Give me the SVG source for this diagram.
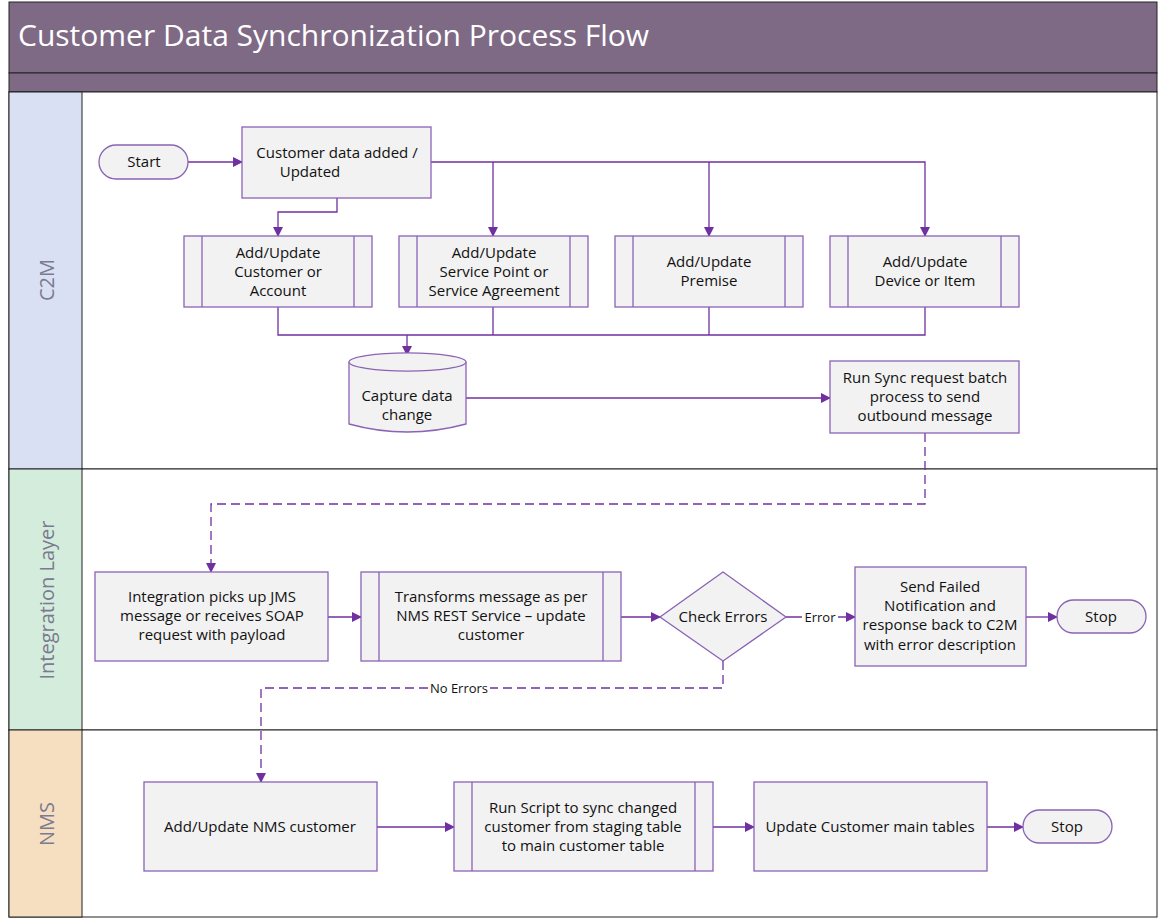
<svg xmlns="http://www.w3.org/2000/svg" width="1160" height="920" viewBox="0 0 1160 920">
<style>
text{font-family:"Open Sans","Liberation Sans",sans-serif;font-size:15px;fill:#111;text-anchor:middle}
.n{fill:#f2f2f2;stroke:#8a63b5;stroke-width:1.3}
.c{fill:none;stroke:#7030a0;stroke-width:1.3}
.d{stroke-dasharray:9,5}
.lane{font-size:20px;fill:#7a7a90}
</style>
<defs><marker id="a" markerWidth="10" markerHeight="10" refX="9" refY="5" orient="auto" markerUnits="userSpaceOnUse"><path d="M0,0 L10,5 L0,10 z" fill="#7030a0"/></marker></defs>
<rect x="0" y="0" width="1160" height="920" fill="#fff"/>
<g id="frame">
<rect x="9" y="2" width="1148" height="71" fill="#7f6a86" stroke="#222"/>
<rect x="9" y="73" width="1148" height="19" fill="#7f6a86" stroke="#222"/>
<text x="18" y="46" style="font-size:30px;fill:#fff;text-anchor:start">Customer Data Synchronization Process Flow</text>
<rect x="9" y="92" width="1148" height="377" fill="#fff" stroke="#222"/>
<rect x="9" y="469" width="1148" height="261" fill="#fff" stroke="#222"/>
<rect x="9" y="730" width="1148" height="187" fill="#fff" stroke="#222"/>
<rect x="9" y="92" width="73" height="377" fill="#dae0f3" stroke="#222"/>
<rect x="9" y="469" width="73" height="261" fill="#d4ecdb" stroke="#222"/>
<rect x="9" y="730" width="73" height="187" fill="#f6dfc0" stroke="#222"/>
<text class="lane" transform="translate(54,280) rotate(-90)">C2M</text>
<text class="lane" transform="translate(54,600) rotate(-90)">Integration Layer</text>
<text class="lane" transform="translate(54,824) rotate(-90)">NMS</text>
</g>
<g id="connectors">
<path class="c" d="M188,162H242" marker-end="url(#a)"/>
<path class="c" d="M337,198V212H278V236" marker-end="url(#a)"/>
<path class="c" d="M431,162H925V236" marker-end="url(#a)"/>
<path class="c" d="M493,162V236" marker-end="url(#a)"/>
<path class="c" d="M709,162V236" marker-end="url(#a)"/>
<path class="c" d="M278,307V335H925V307M493,307V335M709,307V335"/>
<path class="c" d="M407,335V355" marker-end="url(#a)"/>
<path class="c" d="M466,398H830" marker-end="url(#a)"/>
<path class="c d" d="M925,433V504H211V572" marker-end="url(#a)"/>
<path class="c" d="M328,617H361" marker-end="url(#a)"/>
<path class="c" d="M621,617H660" marker-end="url(#a)"/>
<path class="c" d="M786,617H855" marker-end="url(#a)"/>
<rect x="802" y="609" width="36" height="16" fill="#fff"/>
<text x="820" y="622" style="font-size:13px">Error</text>
<path class="c" d="M1026,617H1057" marker-end="url(#a)"/>
<path class="c d" d="M723,661V688H261V782" marker-end="url(#a)"/>
<rect x="428" y="681" width="62" height="15" fill="#fff"/>
<text x="459" y="693" style="font-size:13px">No Errors</text>
<path class="c" d="M377,827H454" marker-end="url(#a)"/>
<path class="c" d="M713,827H754" marker-end="url(#a)"/>
<path class="c" d="M987,827H1023" marker-end="url(#a)"/>
</g>
<g id="start"><rect class="n" x="99" y="145" width="89" height="34" rx="17"/><text x="144" y="167">Start</text></g>
<g id="custdata"><rect class="n" x="242" y="127" width="189" height="71"/><text x="337" y="158">Customer data added /</text><text x="310" y="177">Updated</text></g>
<g id="sub1"><rect class="n" x="184" y="236" width="188" height="71"/><path class="n" d="M202,236V307M354,236V307"/><text x="278" y="258">Add/Update</text><text x="278" y="277">Customer or</text><text x="278" y="296">Account</text></g>
<g id="sub2"><rect class="n" x="399" y="236" width="189" height="71"/><path class="n" d="M417,236V307M570,236V307"/><text x="494" y="258">Add/Update</text><text x="494" y="277">Service Point or</text><text x="494" y="296">Service Agreement</text></g>
<g id="sub3"><rect class="n" x="615" y="236" width="188" height="71"/><path class="n" d="M633,236V307M785,236V307"/><text x="709" y="267">Add/Update</text><text x="709" y="286">Premise</text></g>
<g id="sub4"><rect class="n" x="830" y="236" width="189" height="71"/><path class="n" d="M848,236V307M1001,236V307"/><text x="925" y="267">Add/Update</text><text x="925" y="286">Device or Item</text></g>
<g id="capture"><path class="n" d="M349,362A58,9 0 0 1 466,362V424Q407,440 349,424Z"/><path class="n" d="M349,362A58,9 0 0 0 466,362" fill="none"/><text x="407" y="401">Capture data</text><text x="407" y="420">change</text></g>
<g id="runsync"><rect class="n" x="830" y="361" width="189" height="72"/><text x="925" y="383">Run Sync request batch</text><text x="925" y="402">process to send</text><text x="925" y="421">outbound message</text></g>
<g id="integ"><rect class="n" x="95" y="572" width="233" height="89"/><text x="212" y="602">Integration picks up JMS</text><text x="212" y="621">message or receives SOAP</text><text x="212" y="640">request with payload</text></g>
<g id="transform"><rect class="n" x="361" y="572" width="260" height="89"/><path class="n" d="M379,572V661M603,572V661"/><text x="491" y="602">Transforms message as per</text><text x="491" y="621">NMS REST Service – update</text><text x="491" y="640">customer</text></g>
<g id="check"><path class="n" d="M723,572L786,617L723,661L660,617Z"/><text x="723" y="622">Check Errors</text></g>
<g id="failed"><rect class="n" x="855" y="567" width="171" height="99"/><text x="940" y="592">Send Failed</text><text x="940" y="611">Notification and</text><text x="940" y="630">response back to C2M</text><text x="940" y="650">with error description</text></g>
<g id="stop1"><rect class="n" x="1057" y="600" width="89" height="33" rx="16.5"/><text x="1101" y="622">Stop</text></g>
<g id="nmsadd"><rect class="n" x="144" y="782" width="233" height="89"/><text x="260" y="832">Add/Update NMS customer</text></g>
<g id="runscript"><rect class="n" x="454" y="782" width="259" height="89"/><path class="n" d="M472,782V871M695,782V871"/><text x="583" y="813">Run Script to sync changed</text><text x="583" y="832">customer from staging table</text><text x="583" y="851">to main customer table</text></g>
<g id="updmain"><rect class="n" x="754" y="782" width="233" height="89"/><text x="870" y="832">Update Customer main tables</text></g>
<g id="stop2"><rect class="n" x="1023" y="810" width="89" height="33" rx="16.5"/><text x="1067" y="832">Stop</text></g>
</svg>
